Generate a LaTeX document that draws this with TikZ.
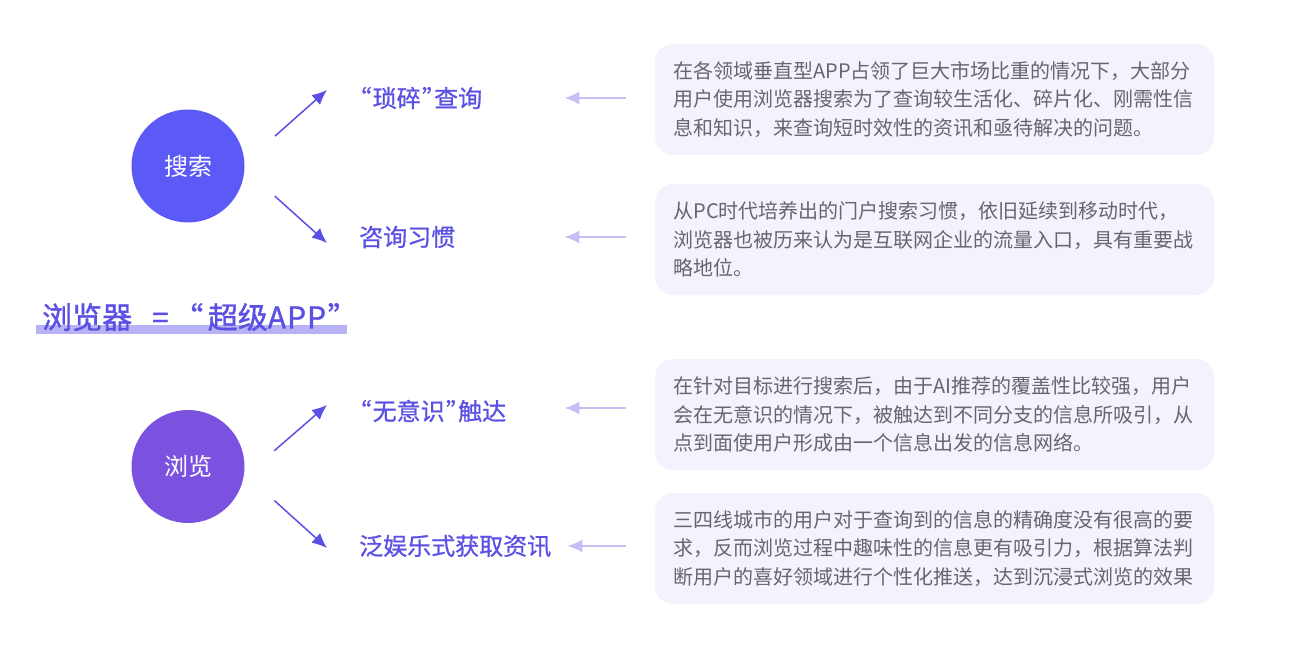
\documentclass[tikz,border=0pt]{standalone}
\usepackage{fontspec}
\setmainfont{Noto Sans CJK SC}
\newfontfamily\titlefont[FakeBold=0.8,RawFeature=+palt]{Noto Sans CJK SC}
\newfontfamily\slogfont[FakeBold=1.3,RawFeature=+palt]{Noto Sans CJK SC}
\usetikzlibrary{arrows.meta}
\definecolor{searchblue}{HTML}{5C5AF7}
\definecolor{browsepurple}{HTML}{7B52DF}
\definecolor{titleblue}{HTML}{5B50E4}
\definecolor{paleblue}{HTML}{C4BFF5}
\definecolor{barblue}{HTML}{B6B2F4}
\definecolor{boxfill}{HTML}{F3F2FD}
\definecolor{bodygrey}{HTML}{666670}
\tikzset{
  topic/.style={circle,minimum size=113pt,inner sep=0pt,text=white,font=\fontsize{24}{24}\selectfont},
  heading/.style={inner sep=0pt,text=titleblue,font=\titlefont\fontsize{24}{24}\selectfont},
  infobox/.style={rectangle,rounded corners=18pt,fill=boxfill,minimum width=559pt,minimum height=111pt,inner sep=0pt,
    text=bodygrey,text width=522pt,align=left,font=\fontsize{20}{28.6}\selectfont},
  flow/.style={-{Latex[length=15pt,width=13pt]},titleblue,line width=1.5pt,shorten <=40.5pt},
  back/.style={-{Latex[length=15pt,width=13pt]},paleblue,line width=1.8pt,shorten <=29pt}
}
\begin{document}
\begin{tikzpicture}[x=1pt,y=1pt]
    \useasboundingbox (0,0) rectangle (1305,-652);

    \node[topic,fill=searchblue] (search) at (188,-166) {搜索};
    \node[topic,fill=browsepurple] (browse) at (188,-466.5) {浏览};

    \node[heading,anchor=west] (suosui) at (359,-98) {“\hspace{1.5pt}琐碎\hspace{1.5pt}”查询};
    \node[heading,anchor=west] (zixun) at (359,-237) {咨询习惯};
    \node[heading,anchor=west] (wuyishi) at (359,-411) {“\hspace{1.5pt}无意识\hspace{1.5pt}”触达};
    \node[heading,anchor=west] (fanyule) at (359,-546) {泛娱乐式获取资讯};

    \node[infobox] (box_a) at (934.5,-99.5) {在各领域垂直型APP占领了巨大市场比重的情况下，大部分\\用户使用浏览器搜索为了查询较生活化、碎片化、刚需性信\\息和知识，来查询短时效性的资讯和亟待解决的问题。};
    \node[infobox] (box_b) at (934.5,-239.5) {从PC时代培养出的门户搜索习惯，依旧延续到移动时代，\\浏览器也被历来认为是互联网企业的流量入口，具有重要战\\略地位。};
    \node[infobox] (box_c) at (934.5,-414.5) {在针对目标进行搜索后，由于AI推荐的覆盖性比较强，用户\\会在无意识的情况下，被触达到不同分支的信息所吸引，从\\点到面使用户形成由一个信息出发的信息网络。};
    \node[infobox] (box_d) at (934.5,-548.5) {三四线城市的用户对于查询到的信息的精确度没有很高的要\\求，反而浏览过程中趣味性的信息更有吸引力，根据算法判\\断用户的喜好领域进行个性化推送，达到沉浸式浏览的效果};

    \node[fill=barblue,minimum width=311pt,minimum height=9pt,inner sep=0pt] (bar) at (191.5,-329.5) {};
    \node[heading,font=\slogfont\fontsize{30}{30}\selectfont,anchor=west] (slogan) at (42,-317) {浏览器\hspace{20pt}=\hspace{19pt}“\hspace{5pt}超级A\hspace{1pt}P\hspace{1pt}P\hspace{2pt}”};

    \coordinate (tip_a) at (327,-90);
    \coordinate (tip_b) at (327,-243);
    \coordinate (tip_c) at (327,-405);
    \coordinate (tip_d) at (327,-548);

    \draw[flow] (search.3) -- (tip_a);
    \draw[flow] (search.-3) -- (tip_b);
    \draw[flow] (browse.-11) -- (tip_c);
    \draw[flow] (browse.-7) -- (tip_d);

    \draw[back,shorten >=82pt] (box_a.west |- suosui) -- (suosui);
    \draw[back,shorten >=109pt] (box_b.west |- zixun) -- (zixun);
    \draw[back,shorten >=58pt] ([yshift=3pt]box_c.west |- wuyishi) -- ([yshift=3pt]wuyishi.east);
    \draw[back,shorten >=16pt] (box_d.west |- fanyule) -- (fanyule);
\end{tikzpicture}
\end{document}
